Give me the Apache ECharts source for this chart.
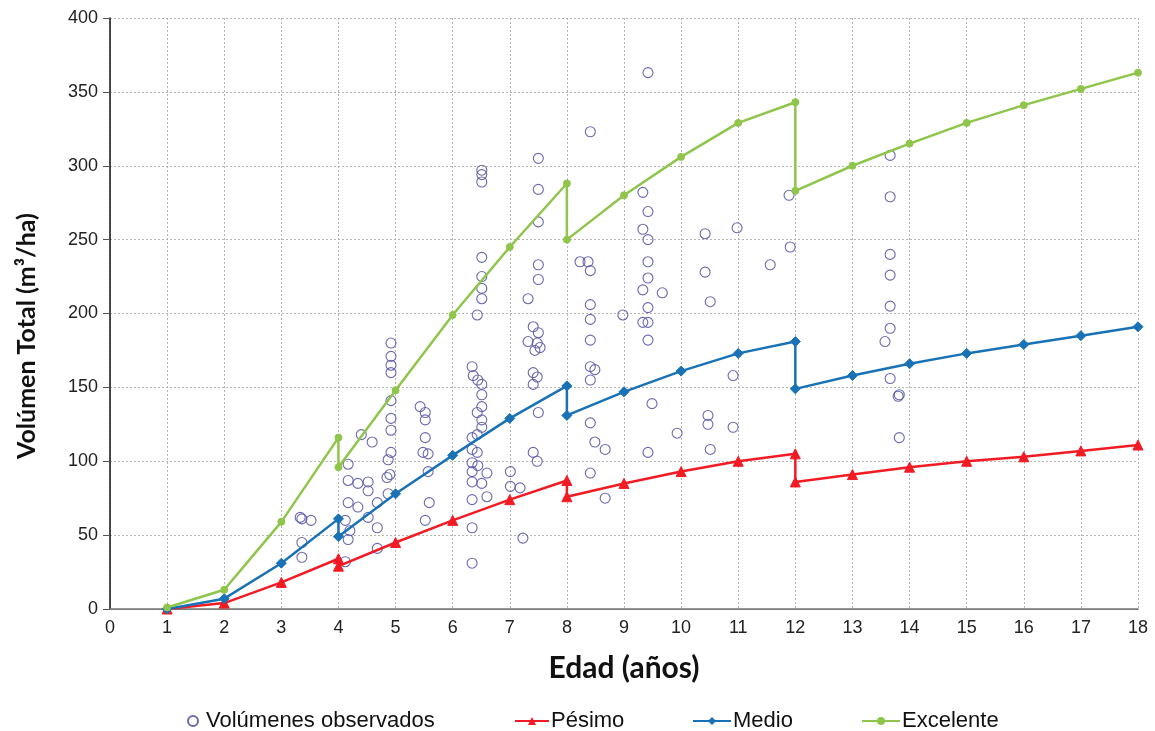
<!DOCTYPE html>
<html>
<head>
<meta charset="utf-8">
<script src="https://cdn.jsdelivr.net/npm/echarts@6/dist/echarts.min.js"></script>
<style>
  html, body { margin: 0; padding: 0; background: #fff; }
  #chart { width: 1155px; height: 731px; }
</style>
</head>
<body>
<div id="chart"></div>
<script>
// Edad (años) ticks
const edadTicks = [0, 1, 2, 3, 4, 5, 6, 7, 8, 9, 10, 11, 12, 13, 14, 15, 16, 17, 18];
const volTicks = [0, 50, 100, 150, 200, 250, 300, 350, 400];

// Curvas de crecimiento: [edad, volumen]; los saltos verticales son raleos
const pesimo = [
  [1, 0], [2, 4], [3, 18], [4, 34], [4, 29], [5, 45], [6, 60], [7, 74], [8, 87], [8, 76],
  [9, 85], [10, 93], [11, 100], [12, 105], [12, 86], [13, 91], [14, 96], [15, 100],
  [16, 103], [17, 107], [18, 111]
];
const medio = [
  [1, 0], [2, 7], [3, 31], [4, 61], [4, 49], [5, 78], [6, 104], [7, 129], [8, 151], [8, 131],
  [9, 147], [10, 161], [11, 173], [12, 181], [12, 149], [13, 158], [14, 166], [15, 173],
  [16, 179], [17, 185], [18, 191]
];
const excelente = [
  [1, 1], [2, 13], [3, 59], [4, 116], [4, 96], [5, 148], [6, 199], [7, 245], [8, 288], [8, 250],
  [9, 280], [10, 306], [11, 329], [12, 343], [12, 283], [13, 300], [14, 315], [15, 329],
  [16, 341], [17, 352], [18, 363]
];

// Volúmenes observados en parcelas: [edad, volumen]
const observados = [
  [3.36, 61], [3.52, 60], [3.33, 62], [3.36, 45], [3.36, 35],
  [4.40, 118], [4.59, 113], [4.17, 87], [4.34, 85], [4.52, 86], [4.52, 80], [4.17, 72],
  [4.34, 69], [4.68, 72], [4.52, 62], [4.12, 60], [4.20, 53], [4.17, 47], [4.68, 55],
  [4.68, 41], [4.12, 32], [4.17, 98], [4.85, 89], [4.87, 78], [4.90, 91],
  [4.92, 180], [4.92, 171], [4.92, 165], [4.92, 160], [4.92, 141], [4.92, 129], [4.92, 121],
  [4.92, 106], [4.87, 101],
  [5.43, 137], [5.52, 133], [5.52, 128], [5.52, 116], [5.48, 106], [5.57, 105], [5.57, 93],
  [5.59, 72], [5.52, 60],
  [6.51, 297], [6.51, 294], [6.51, 289], [6.51, 238], [6.51, 225], [6.51, 217], [6.51, 210],
  [6.43, 199], [6.34, 164], [6.36, 158], [6.44, 155], [6.51, 152], [6.51, 145], [6.51, 137],
  [6.43, 133], [6.51, 128], [6.51, 123], [6.43, 118], [6.34, 116], [6.34, 108], [6.43, 106],
  [6.34, 99], [6.44, 97], [6.34, 93], [6.60, 92], [6.34, 86], [6.51, 85], [6.60, 76],
  [6.34, 74], [6.34, 55], [6.34, 31],
  [7.50, 305], [7.50, 284], [7.50, 262], [7.50, 233], [7.50, 223], [7.32, 210], [7.41, 191],
  [7.50, 187], [7.32, 181], [7.48, 180], [7.44, 175], [7.53, 177], [7.41, 160], [7.48, 157],
  [7.41, 152], [7.50, 133], [7.41, 106], [7.48, 100], [7.01, 93], [7.01, 83], [7.18, 82],
  [7.23, 48],
  [8.41, 323], [8.23, 235], [8.37, 235], [8.41, 229], [8.41, 206], [8.41, 196], [8.41, 182],
  [8.41, 164], [8.49, 162], [8.41, 155], [8.41, 126], [8.49, 113], [8.67, 108], [8.41, 92],
  [8.67, 75],
  [9.42, 363], [9.33, 282], [9.42, 269], [9.33, 257], [9.42, 250], [9.42, 235], [9.42, 224],
  [9.33, 216], [9.67, 214], [9.42, 204], [9.33, 194], [9.42, 194], [9.42, 182], [9.49, 139],
  [9.93, 119], [9.42, 106], [8.98, 199],
  [10.42, 254], [10.42, 228], [10.51, 208], [10.47, 131], [10.47, 125], [10.51, 108],
  [10.91, 158], [10.91, 123], [10.98, 258],
  [11.91, 245], [11.56, 233], [11.89, 280],
  [13.66, 307], [13.66, 279], [13.66, 240], [13.66, 226], [13.66, 205], [13.66, 190],
  [13.57, 181], [13.66, 156], [13.82, 145], [13.80, 144], [13.82, 116]
];

const chart = echarts.init(document.getElementById('chart'), null, { renderer: 'canvas' });

const gridLine = { show: true, lineStyle: { color: '#b4b4b4', type: [2, 2], width: 1 } };
const labelFont = { fontFamily: 'Liberation Sans', fontSize: 18, color: '#222' };

function lineSeries(name, data, color, symbol, size) {
  return {
    name: name, type: 'line', data: data,
    symbol: symbol, symbolSize: size, showSymbol: true,
    lineStyle: { color: color, width: 2.5 },
    itemStyle: { color: color, borderColor: color },
    z: 3
  };
}

function legendAt(name, left, iconW, textPad) {
  return {
    data: [name], left: left, top: 705, itemWidth: iconW, itemHeight: 10, itemGap: 2,
    textStyle: { fontFamily: 'Liberation Sans', fontSize: 22, color: '#111', padding: [0, 0, 0, textPad] },
    selectedMode: false
  };
}

chart.setOption({
  animation: false,
  backgroundColor: '#ffffff',
  grid: { left: 110, right: 17, top: 18, bottom: 122 },
  xAxis: [{
    type: 'value', min: 0, max: 18, interval: 1,
    name: 'Edad (años)', nameLocation: 'middle', nameGap: 44,
    nameTextStyle: { fontFamily: 'Lato', fontWeight: 'bold', fontSize: 30, color: '#111' },
    axisLine: { show: true, onZero: false, lineStyle: { color: '#888', width: 1 } },
    axisTick: { show: false },
    axisLabel: Object.assign({ margin: 10, formatter: v => edadTicks.includes(v) ? String(v) : '' }, labelFont),
    splitLine: gridLine
  }, {
    type: 'value', min: 0, max: 18, position: 'top',
    axisLine: { show: true, lineStyle: { color: '#777', width: 1.5 } },
    axisTick: { show: false }, axisLabel: { show: false }, splitLine: { show: false }
  }],
  yAxis: {
    type: 'value', min: 0, max: 400, interval: 50,
    axisLine: { show: true, lineStyle: { color: '#111', width: 1.5 } },
    axisTick: { show: true, length: 7, inside: false, lineStyle: { color: '#555' } },
    axisLabel: Object.assign({ margin: 12, formatter: v => volTicks.includes(v) ? String(v) : '' }, labelFont),
    splitLine: gridLine
  },
  graphic: [{
    type: 'text', x: 27, y: 336, rotation: Math.PI / 2,
    style: {
      text: 'Volúmen Total (m³/ha)', align: 'center', verticalAlign: 'middle',
      font: 'bold 25px Lato', fill: '#111'
    }
  }],
  legend: [
    legendAt('Volúmenes observados', 182, 10, 3),
    legendAt('Pésimo', 509, 34, -3),
    legendAt('Medio', 687, 38, -3),
    legendAt('Excelente', 856, 38, -3)
  ],
  series: [
    {
      name: 'Volúmenes observados', type: 'scatter', data: observados,
      symbol: 'circle', symbolSize: 10,
      itemStyle: { color: 'rgba(255,255,255,0)', borderColor: '#5a5aa6', borderWidth: 1.1, opacity: 0.9 },
      z: 2
    },
    lineSeries('Pésimo', pesimo, '#f21b24', 'triangle', 10),
    lineSeries('Medio', medio, '#1a72b6', 'diamond', 10),
    lineSeries('Excelente', excelente, '#8ec54a', 'circle', 7)
  ]
});
</script>
</body>
</html>
